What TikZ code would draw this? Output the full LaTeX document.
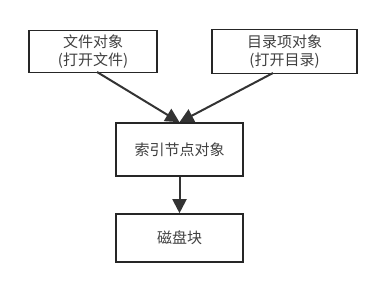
\documentclass[tikz,border=0pt]{standalone}
\usepackage{fontspec}
\setmainfont{Noto Sans CJK SC}
\usetikzlibrary{arrows.meta}
\begin{document}
\begin{tikzpicture}[x=1pt,y=-1pt,
  box/.style={draw=black!85,line width=1.6pt,inner sep=0pt,text=black!75,font=\fontsize{15}{18.5}\selectfont,align=center},
  conn/.style={draw=black!80,line width=2pt,-{Triangle[length=14pt,width=14pt]}}]
\useasboundingbox (0,0) rectangle (369,291);
\node[box,minimum width=128pt,minimum height=42pt] (a) at (93,51.5) {文件对象\\(打开文件)};
\node[box,minimum width=145pt,minimum height=44pt] (b) at (284.5,51.5) {目录项对象\\(打开目录)};
\node[box,minimum width=127pt,minimum height=53pt] (c) at (179.5,149.5) {索引节点对象};
\node[box,minimum width=127pt,minimum height=48pt] (d) at (179.5,238) {磁盘块};
\draw[conn] (97,72) -- (c.north);
\draw[conn] (273,73) -- (c.north);
\draw[conn] (c.south) -- (d.north);
\end{tikzpicture}
\end{document}
